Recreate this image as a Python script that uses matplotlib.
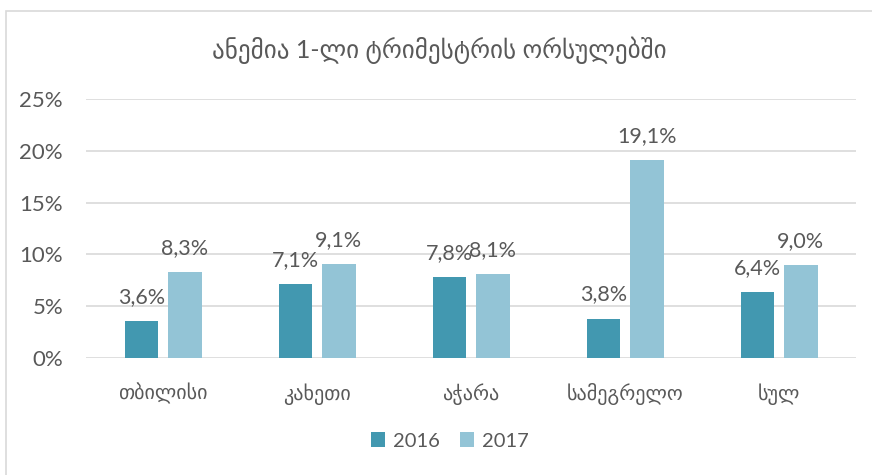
import matplotlib
matplotlib.use("Agg")
import matplotlib.pyplot as plt
from matplotlib.patches import Rectangle
import numpy as np

categories = ["თბილისი", "კახეთი", "აჭარა", "სამეგრელო", "სულ"]
series_names = ["2016", "2017"]
values_2016 = [3.6, 7.1, 7.8, 3.8, 6.4]
values_2017 = [8.3, 9.1, 8.1, 19.1, 9.0]
yticks = [0, 5, 10, 15, 20, 25]
title = "ანემია 1-ლი ტრიმესტრის ორსულებში"

fam = ["Lato", "DejaVu Sans"]
txt = "#595959"
c16 = "#4298B0"
c17 = "#93C4D6"

W, H = 872, 475
fig = plt.figure(figsize=(W / 100, H / 100), dpi=100)
fig.patches.append(Rectangle((6 / W, -0.1), 1.2, (H - 11) / H + 0.1, transform=fig.transFigure,
                             fill=False, edgecolor="#d9d9d9", linewidth=1.2))
ax = fig.add_axes([86 / W, (H - 358) / H, (856 - 86) / W, (358 - 99) / H])

x = np.arange(len(categories))
bw = 0.22
off = 0.14
b1 = ax.bar(x - off, values_2016, bw, color=c16, label=series_names[0], zorder=3)
b2 = ax.bar(x + off, values_2017, bw, color=c17, label=series_names[1], zorder=3)

for bars, vals in ((b1, values_2016), (b2, values_2017)):
    for r, v in zip(bars, vals):
        ax.annotate(f"{v:.1f}%".replace(".", ","), (r.get_x() + r.get_width() / 2, v),
                    xytext=(0, 13), textcoords="offset points", ha="center", va="baseline",
                    fontsize=15.5, color=txt, family=fam, zorder=4)

ax.set_xlim(-0.5, len(categories) - 0.5)
ax.set_ylim(0, 25)
ax.set_yticks(yticks)
ax.set_yticklabels([f"{t}%" for t in yticks], family=fam, fontsize=16, color=txt)
ax.set_xticks(x)
ax.set_xticklabels(categories, family=fam, fontsize=14.5, color=txt)
ax.tick_params(axis="both", length=0)
ax.tick_params(axis="y", pad=16.5)
ax.tick_params(axis="x", pad=18)
ax.grid(axis="y", color="#d9d9d9", linewidth=1.2, zorder=0)
for s in ax.spines.values():
    s.set_visible(False)

fig.text(439 / W, 1 - 50 / H, title, ha="center", va="center", fontsize=18, color=txt, family=fam)

leg = fig.legend(handles=[b1, b2], labels=series_names, loc="center", bbox_to_anchor=(450 / W, 1 - 441 / H),
                 ncol=2, frameon=False, prop={"family": fam, "size": 14.5}, handlelength=0.7, handleheight=0.7,
                 columnspacing=1.0, handletextpad=0.4)
for t in leg.get_texts():
    t.set_color(txt)

fig.savefig("out.png", dpi=100)
